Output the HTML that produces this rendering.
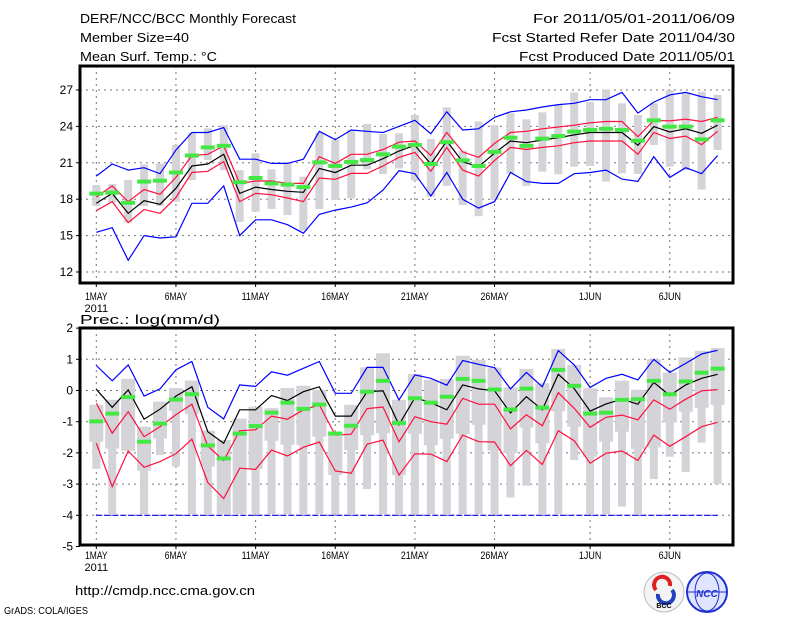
<!DOCTYPE html>
<html><head><meta charset="utf-8"><style>
html,body{margin:0;padding:0;background:#fff;}
svg{display:block;font-family:"Liberation Sans",sans-serif;}
</style></head><body>
<svg id="chart" width="800" height="618" viewBox="0 0 800 618" xmlns="http://www.w3.org/2000/svg">
<g font-size="13" fill="#000">
<text x="80" y="23" textLength="216" lengthAdjust="spacingAndGlyphs">DERF/NCC/BCC Monthly Forecast</text>
<text x="80" y="42" textLength="109" lengthAdjust="spacingAndGlyphs">Member Size=40</text>
<text x="80" y="61" textLength="137" lengthAdjust="spacingAndGlyphs">Mean Surf. Temp.: °C</text>
<text x="735" y="23" text-anchor="end" textLength="202" lengthAdjust="spacingAndGlyphs">For 2011/05/01-2011/06/09</text>
<text x="735" y="42" text-anchor="end" textLength="243" lengthAdjust="spacingAndGlyphs">Fcst Started Refer Date 2011/04/30</text>
<text x="735" y="61" text-anchor="end" textLength="216" lengthAdjust="spacingAndGlyphs">Fcst Produced Date 2011/05/01</text>
<text x="80" y="324" textLength="140" lengthAdjust="spacingAndGlyphs">Prec.: log(mm/d)</text>
<text x="75" y="595" textLength="180" lengthAdjust="spacingAndGlyphs">http://cmdp.ncc.cma.gov.cn</text>
<text x="4" y="614" font-size="10" textLength="84" lengthAdjust="spacingAndGlyphs">GrADS: COLA/IGES</text>
</g>
<g id="top"></g>
<g id="bot"></g>
<g>
<circle cx="664" cy="592" r="20" fill="#f4f4f4" stroke="#bbb"/>
<path d="M656 590 a8 8 0 1 1 14 -4" fill="none" stroke="#e02020" stroke-width="4"/>
<path d="M672 590 a8 8 0 1 1 -14 4" fill="none" stroke="#2040c0" stroke-width="4"/>
<text x="664" y="608" font-size="7" text-anchor="middle" font-weight="bold">BCC</text>
</g>
<g>
<circle cx="707" cy="592" r="20" fill="#dfe4ff" stroke="#2030d0" stroke-width="2"/>
<ellipse cx="707" cy="592" rx="12" ry="19" fill="none" stroke="#2030d0"/>
<line x1="688" y1="592" x2="726" y2="592" stroke="#2030d0"/>
<text x="707" y="597" font-size="10" text-anchor="middle" fill="#2030d0" font-style="italic" font-weight="bold">NCC</text>
</g>
</svg>
<script>
// ---- temperature data (days from 1 May) ----
const tBlueHi=[19.9,20.9,20.4,20.6,20.1,22.05,23.5,23.5,23.9,21.3,21.3,20.95,20.95,21.3,23.6,22.9,23.7,23.6,23.5,24.0,24.5,23.4,25.2,23.7,23.8,24.75,25.2,25.35,25.6,25.8,25.9,26.2,26.2,26.8,25.1,26.0,26.6,26.8,26.45,26.2];
const tRedHi=[18.18,19.1,17.8,18.8,18.4,19.8,21.6,21.7,22.4,19.3,19.5,19.5,19.3,19.3,21.5,20.95,21.7,21.7,22.1,22.7,22.8,21.6,23.5,21.9,21.45,22.6,23.5,23.6,23.8,23.95,24.1,24.3,24.4,24.4,23.15,24.5,24.45,24.6,24.4,24.75];
const tMean=[17.66,18.48,16.84,17.88,17.58,18.9,20.74,20.9,21.7,18.48,19.0,18.8,18.65,18.57,20.54,20.19,20.8,20.8,21.34,21.97,22.44,20.9,22.8,21.07,20.68,21.8,22.8,22.66,22.88,23.07,23.3,23.5,23.5,23.5,22.44,23.98,23.54,23.8,23.43,24.1];
const tRedLo=[17.05,17.8,16.07,17.14,16.84,18.13,20.2,20.3,21.1,17.8,18.48,18.37,18.1,17.8,19.75,19.64,20.13,20.13,20.74,21.45,21.86,20.3,22.27,20.4,19.9,21.2,22.27,22.1,22.27,22.4,22.66,22.8,22.8,22.8,21.7,23.5,23.0,23.2,22.5,23.6];
const tBlueLo=[15.27,15.65,12.96,15.0,14.8,14.9,17.66,17.66,19.1,15.0,16.3,16.3,15.9,15.2,16.75,17.1,17.35,17.7,18.75,20.35,20.1,18.26,20.2,17.99,17.27,17.8,20.2,19.45,19.3,19.3,20.1,20.2,20.4,19.66,19.47,21.5,19.8,20.6,20.1,21.6];
const tGreen=[18.46,18.54,17.7,19.45,19.53,20.2,21.6,22.27,22.4,19.4,19.75,19.3,19.2,19.0,21.04,20.74,21.07,21.23,21.7,22.33,22.47,20.9,22.7,21.2,20.74,21.9,23.07,22.4,22.99,23.2,23.57,23.7,23.8,23.7,22.82,24.5,23.98,23.98,22.93,24.5];
const tBarMax=[19.17,19.25,19.58,20.87,20.95,22.47,23.48,23.84,24.1,20.4,21.78,20.46,21.04,19.86,23.48,22.88,23.7,24.2,23.37,23.43,24.94,22.96,25.57,22.0,24.4,24.1,25.08,24.58,25.16,25.8,26.8,26.0,27.05,25.9,24.94,25.9,26.97,26.73,26.86,26.6];
const tBarMin=[17.44,17.71,16.07,17.44,17.44,17.8,19.58,21.23,20.4,16.12,16.97,17.2,16.7,15.4,17.2,17.93,18.07,20.46,20.08,20.54,19.53,18.2,19.1,17.52,16.6,17.93,20.13,19.1,20.27,20.05,20.68,20.74,19.45,20.13,20.08,22.47,20.68,20.4,18.8,22.05];
const tTicks=[27,24,21,18,15,12];
// ---- precipitation data ----
const pBlueHi=[0.80,0.31,0.82,-0.18,0.05,0.66,0.93,-0.54,-0.91,0.18,0.13,0.60,0.49,0.71,0.93,-0.09,-0.09,0.74,0.74,-0.30,0.50,0.39,0.17,0.96,0.84,0.73,0.05,0.58,0.12,1.28,0.82,0.10,0.39,0.52,0.34,1.0,0.58,0.87,1.17,1.29];
const pMean=[0.04,-0.54,0.02,-0.92,-0.60,-0.18,0.12,-1.32,-1.69,-0.62,-0.62,-0.16,-0.32,-0.04,0.12,-0.82,-0.82,-0.04,-0.01,-1.10,-0.23,-0.39,-0.62,0.18,0.05,-0.01,-0.72,-0.20,-0.62,0.52,0.06,-0.66,-0.43,-0.28,-0.44,0.26,-0.16,0.18,0.39,0.52];
const pRedHi=[-0.41,-1.37,-0.68,-1.48,-1.16,-0.78,-0.44,-1.78,-2.25,-1.29,-1.26,-0.82,-0.92,-0.62,-0.46,-1.43,-1.40,-0.58,-0.53,-1.64,-0.84,-1.0,-1.08,-0.25,-0.44,-0.44,-1.23,-0.78,-1.13,-0.07,-0.57,-1.18,-0.86,-0.79,-0.94,-0.30,-0.60,-0.28,-0.01,0.03];
const pRedLo=[-1.69,-3.08,-1.94,-2.46,-2.28,-2.03,-1.56,-2.95,-3.46,-2.49,-2.53,-1.91,-2.10,-1.82,-1.65,-2.58,-2.65,-1.72,-1.59,-2.71,-2.03,-2.04,-2.28,-1.43,-1.64,-1.65,-2.41,-1.92,-2.37,-1.29,-1.61,-2.33,-2.01,-1.94,-2.24,-1.43,-1.79,-1.48,-1.16,-1.02];
const pBlueLo=[-4,-4,-4,-4,-4,-4,-4,-4,-4,-4,-4,-4,-4,-4,-4,-4,-4,-4,-4,-4,-4,-4,-4,-4,-4,-4,-4,-4,-4,-4,-4,-4,-4,-4,-4,-4,-4,-4,-4,-4];
const pGreen=[-0.99,-0.74,-0.21,-1.64,-1.06,-0.29,-0.12,-1.76,-2.18,-1.38,-1.14,-0.71,-0.39,-0.59,-0.45,-1.38,-1.13,-0.04,0.31,-1.04,-0.25,-0.39,-0.20,0.37,0.31,0.03,-0.61,0.06,-0.55,0.66,0.15,-0.74,-0.71,-0.30,-0.28,0.31,-0.12,0.29,0.57,0.70];
const pMax=[-0.46,-0.30,0.37,-1.16,-0.36,0.08,0.32,-1.29,-1.59,-0.90,-0.52,-0.57,0.08,0.15,0.02,-1.32,-0.46,0.74,1.19,-0.30,0.53,0.34,0.37,1.11,0.98,0.73,0.10,0.69,0.23,1.33,0.82,0.07,-0.22,0.31,0.02,1.0,0.57,1.06,1.27,1.36];
const pQ1=[-1.64,-1.86,-1.93,-2.57,-1.54,-0.65,-0.75,-2.44,-3.96,-3.94,-2.51,-1.61,-1.74,-1.75,-1.48,-2.71,-1.91,-1.43,-1.37,-2.71,-1.39,-1.75,-1.55,-1.39,-1.10,-1.93,-2.01,-1.19,-1.69,-0.66,-1.16,-2.12,-1.64,-1.32,-1.87,-1.82,-1.03,-0.68,-0.55,-0.46];
const pMin=[-2.51,-3.96,-1.93,-3.96,-2.07,-2.44,-3.96,-3.96,-3.96,-3.96,-3.96,-3.96,-3.96,-3.96,-3.96,-3.96,-3.96,-3.16,-3.96,-3.96,-3.96,-3.96,-3.96,-3.96,-3.96,-3.96,-3.43,-3.05,-3.96,-3.96,-2.23,-3.96,-3.96,-3.72,-3.96,-2.84,-2.12,-2.61,-1.67,-3.00];
const pTicks=[2,1,0,-1,-2,-3,-4,-5];
const xLabels=["1MAY","6MAY","11MAY","16MAY","21MAY","26MAY","1JUN","6JUN"];
const xLabelDays=[0,5,10,15,20,25,31,36];

const NS="http://www.w3.org/2000/svg";
const xS=d=>96.3+d*15.93;
const yT=v=>90+(27-v)*12.133;
const yB=v=>359.3+(1-v)*31.2;
function mk(parent,tag,attrs){const e=document.createElementNS(NS,tag);for(const k in attrs)e.setAttribute(k,attrs[k]);parent.appendChild(e);return e;}

function panel(g,top,bottom,ticks,yf,prefix,xlabY){
  // grid
  ticks.forEach(t=>{const y=yf(t);if(y>top+2&&y<bottom-2){const l=mk(g,'line',{x1:80,x2:733,y1:y,y2:y,stroke:'#777','stroke-dasharray':'2,4','stroke-width':1});
  
  }
  const tk=mk(g,'line',{x1:76,x2:80,y1:y,y2:y,stroke:'#000'});
  
  
  const tx=mk(g,'text',{x:73,y:y+4,'text-anchor':'end','font-size':12});tx.textContent=t;
  
  });
  xLabelDays.forEach((d,i)=>{const x=xS(d);
    const l=mk(g,'line',{x1:x,x2:x,y1:top,y2:bottom,stroke:'#777','stroke-dasharray':'2,4'});
    
    
    const tk=mk(g,'line',{x1:x,x2:x,y1:bottom,y2:bottom+4,stroke:'#000'});
    
    
    const tx=mk(g,'text',{x:x,y:xlabY,'text-anchor':'middle','font-size':11,textLength:xLabels[i].length*5.6,lengthAdjust:'spacingAndGlyphs'});tx.textContent=xLabels[i];
    
    
  });
  const yr=mk(g,'text',{x:xS(0),y:xlabY+12,'text-anchor':'middle','font-size':11});yr.textContent='2011';
  
  
}
function line(g,arr,yf,color,name,dash){
  const pts=arr.map((v,i)=>xS(i).toFixed(1)+','+yf(v).toFixed(1)).join(' ');
  const p=mk(g,'polyline',{points:pts,fill:'none',stroke:color,'stroke-width':1.2});
  if(dash)p.setAttribute('stroke-dasharray',dash);
  
  
}
function greens(g,arr,yf,name){arr.forEach((v,i)=>{const r=mk(g,'rect',{x:xS(i)-7,y:yf(v)-2,width:14,height:4,fill:'#44e844'});
  
  });}

// top
const gt=document.getElementById('top');
panel(gt,66,283,tTicks,yT,'temp',300);
tBarMax.forEach((v,i)=>{const r=mk(gt,'rect',{x:xS(i)-4,y:yT(v),width:8,height:yT(tBarMin[i])-yT(v),fill:'#d3d3d8'});
  
  });
line(gt,tBlueHi,yT,'#0000ff','temp-max-line');
line(gt,tBlueLo,yT,'#0000ff','temp-min-line');
line(gt,tRedHi,yT,'#ff1040','temp-upper-line');
line(gt,tRedLo,yT,'#ff1040','temp-lower-line');
line(gt,tMean,yT,'#000','temp-mean-line');
greens(gt,tGreen,yT,'temp-marker');
const ft=mk(gt,'rect',{x:80,y:66,width:653,height:217,fill:'none',stroke:'#000','stroke-width':3});



// bottom
const gb=document.getElementById('bot');
panel(gb,328,545,pTicks,yB,'prec',559);
pMax.forEach((v,i)=>{
  const w=mk(gb,'rect',{x:xS(i)-4,y:yB(v),width:8,height:yB(pMin[i])-yB(v),fill:'#d3d3d8'});
  
  
  const b=mk(gb,'rect',{x:xS(i)-7,y:yB(v),width:14,height:yB(pQ1[i])-yB(v),fill:'#d3d3d8'});
  
  
});
line(gb,pBlueLo,yB,'#0000ff','prec-min-line','6,2');
line(gb,pBlueHi,yB,'#0000ff','prec-max-line');
line(gb,pRedHi,yB,'#ff1040','prec-upper-line');
line(gb,pRedLo,yB,'#ff1040','prec-lower-line');
line(gb,pMean,yB,'#000','prec-mean-line');
greens(gb,pGreen,yB,'prec-marker');
const fb=mk(gb,'rect',{x:80,y:328,width:653,height:217,fill:'none',stroke:'#000','stroke-width':3});


</script>
</body></html>
